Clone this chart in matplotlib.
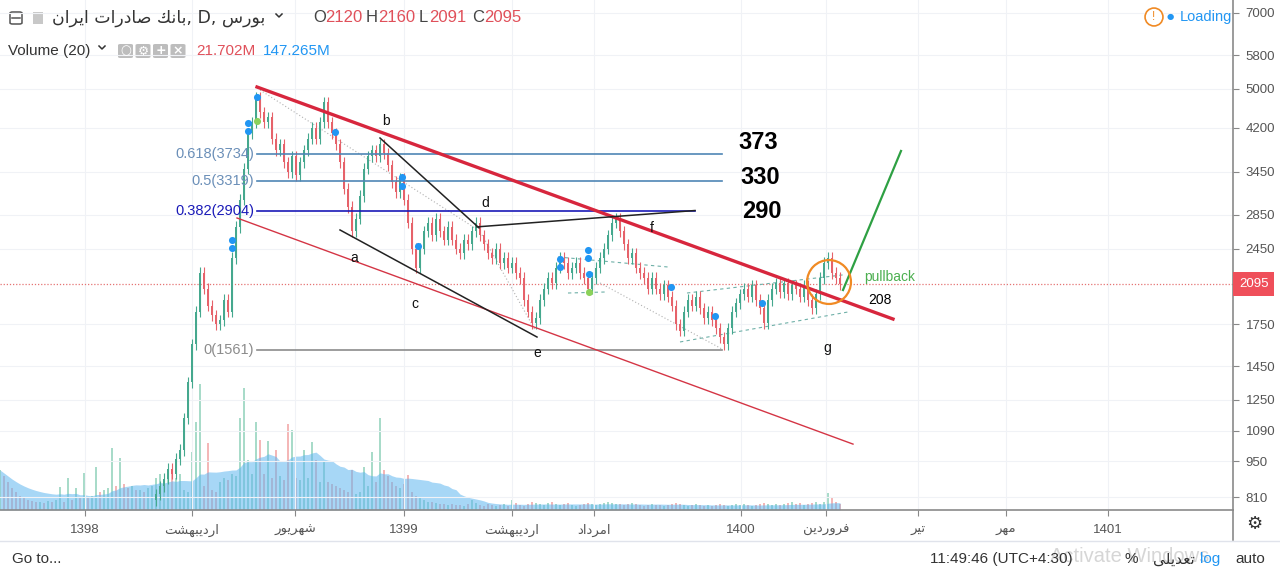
import numpy as np
import pandas as pd
import matplotlib
matplotlib.use('Agg')
import matplotlib.pyplot as plt
import matplotlib.transforms as mtrans
from matplotlib.patches import FancyBboxPatch, Rectangle
from matplotlib.lines import Line2D
from matplotlib.ticker import FixedLocator, NullLocator

plt.rcParams['font.family'] = ['Liberation Sans', 'DejaVu Sans']

# ---- data, one bar per trading-day slot ----
first_bar = 39          # index of the first visible candle
first_open = 800
closes = [820, 850, 880, 920, 900, 960,
          1000, 1150, 1350, 1600, 1850, 2200, 2050, 1900, 1820, 1750,
          1780, 1950, 1850, 2350, 2700, 3050, 3500, 4100, 4300, 4800,
          4500, 4300, 4400, 4000, 3800, 3900, 3600, 3450, 3700, 3400,
          3600, 3800, 4000, 4200, 4000, 4300, 4700, 4300, 4100, 3900,
          3600, 3200, 2950, 2650, 2800, 3100, 3500, 3700, 3800, 3700,
          3900, 3750, 3550, 3300, 3150, 3350, 3050, 2750, 2450, 2250,
          2450, 2650, 2750, 2600, 2800, 2650, 2550, 2700, 2550, 2450,
          2400, 2550, 2500, 2650, 2750, 2600, 2500, 2400, 2350, 2450,
          2300, 2350, 2250, 2300, 2200, 2150, 1950, 1850, 1760, 1800,
          1950, 2050, 2150, 2100, 2250, 2350, 2300, 2200, 2250, 2300,
          2200, 2150, 2050, 2150, 2250, 2350, 2450, 2600, 2750, 2800,
          2650, 2500, 2350, 2400, 2250, 2200, 2150, 2050, 2150, 2050,
          2000, 2080, 1980, 1900, 1750, 1700, 1850, 1950, 1900, 1980,
          1880, 1800, 1850, 1780, 1720, 1650, 1600, 1720, 1850, 1920,
          2000, 2050, 1980, 2080, 1950, 1880, 1760, 1950, 2050, 2100,
          2020, 2100, 2000, 2080, 2050, 1980, 2080, 1950, 1880, 2000,
          2150, 2300, 2350, 2200, 2150, 2095]

# volume in millions of shares, from bar 0
volumes = [1000, 850, 700, 550, 450,
           350, 300, 250, 225, 200, 200, 175, 225, 200, 250,
           575, 200, 800, 250, 550, 300, 925, 300, 350, 1075,
           450, 500, 550, 1550, 600, 1300, 650, 550, 600, 500,
           500, 450, 550, 600, 800, 900, 700, 850, 900, 800,
           900, 500, 450, 1450, 2200, 3150, 600, 1675, 500, 450,
           700, 800, 750, 900, 850, 2300, 3050, 1250, 900, 2200,
           1750, 900, 1725, 800, 1500, 850, 750, 2150, 2000, 800,
           750, 1500, 800, 1700, 1250, 700, 1200, 700, 650, 600,
           550, 500, 450, 1000, 400, 450, 1075, 600, 1450, 700,
           2300, 1000, 850, 700, 600, 550, 650, 875, 450, 350,
           300, 250, 200, 200, 175, 150, 150, 125, 150, 125,
           125, 100, 150, 250, 175, 125, 100, 150, 125, 100,
           125, 150, 100, 250, 175, 125, 100, 150, 200, 175,
           150, 125, 175, 200, 150, 125, 150, 175, 125, 100,
           125, 150, 175, 150, 125, 150, 175, 200, 175, 150,
           150, 125, 150, 175, 150, 125, 100, 125, 150, 125,
           125, 100, 125, 150, 175, 150, 125, 100, 125, 150,
           125, 100, 125, 100, 125, 150, 125, 100, 125, 150,
           125, 150, 125, 100, 125, 150, 175, 150, 125, 150,
           125, 150, 175, 200, 150, 175, 125, 150, 175, 200,
           150, 200, 425, 300, 200, 150]

last_price = 2095
price_ticks = [810, 950, 1090, 1250, 1450, 1750, 2450, 2850, 3450, 4200, 5000, 5800, 7000]
time_ticks = [21.25, 48, 73.75, 101, 128, 148.5, 185.25, 206.5, 229.5, 251.5, 277]
time_labels = ['1398',
               '\uFE96\uFEB8\uFEEC\uFE92\uFEF3\uFEA9\uFEAD\uFE8D',
               '\uFEAD\uFEEE\uFEF3\uFEAE\uFEEC\uFEB7',
               '1399',
               '\uFE96\uFEB8\uFEEC\uFE92\uFEF3\uFEA9\uFEAD\uFE8D',
               '\uFEA9\uFE8D\uFEA9\uFEAE\uFEE3\uFE8D',
               '1400',
               '\uFEE6\uFEF3\uFEA9\uFEAD\uFEED\uFEAE\uFED3',
               '\uFEAE\uFEF4\uFE97',
               '\uFEAE\uFEEC\uFEE3',
               '1401']

fib_ratio = [0.618, 0.5, 0.382, 0]
fib_price = [3734, 3319, 2904, 1561]
fib_end = [180.5, 180.5, 173.75, 180.5]
fib_color = ['#4f86b5', '#4f86b5', '#1a1ab8', '#8c8c8c']
fib_lcolor = ['#6b8fb8', '#6b8fb8', '#1a1ab8', '#8c8c8c']

dot_bar = [64.25, 62, 62, 58, 58, 83.75, 100.5, 100.5, 104.5, 140, 140, 147, 147, 147.25, 167.75, 178.75, 190.5]
dot_price = [4815, 4289, 4138, 2547, 2457, 4115, 3372, 3239, 2479, 2340, 2258, 2435, 2353, 2190, 2066, 1815, 1924]
gdot_bar = [64.25, 147.25]
gdot_price = [4329, 2021]

wave_labels = ['a', 'b', 'c', 'd', 'e', 'f', 'g']
wave_bar = [88.5, 96.5, 103.75, 121.25, 134.25, 163, 206.75]
wave_price = [2353, 4329, 1916, 3000, 1539, 2688, 1571]

targets = ['373', '330', '290']
target_bar = [189.5, 190, 190.5]
target_price = [3940, 3357, 2891]

# ---- figure ----
W, H = 1280, 575
fig = plt.figure(figsize=(12.8, 5.75), dpi=100)
fig.patch.set_facecolor('white')

def fx(px):
    return px / W

def fy(py):
    return 1 - py / H

rect = [0, fy(510), fx(1233), 510 / H]
axv = fig.add_axes(rect, zorder=0)
ax = fig.add_axes(rect, zorder=1)
ax.patch.set_visible(False)

xmax = 1233 / 4
for a in (ax, axv):
    a.set_xlim(0, xmax)

# volume
vol = pd.Series(volumes, dtype=float)
vx = np.arange(len(vol))
c = np.array(closes, float)
o = np.concatenate([[first_open], c[:-1]])
up = c >= o
vol_up = np.array(vol.diff().fillna(0) >= 0)
vol_up[first_bar:first_bar + len(c)] = up
vcol = np.where(vol_up, '#9fd8c4', '#f3b0b0')
axv.bar(vx, vol, width=0.55, color=vcol, alpha=0.9)
ma = vol.rolling(20, min_periods=1).mean()
axv.fill_between(vx, 0, ma, color='#5fb6f0', alpha=0.55, lw=0)
axv.set_ylim(0, 510 * 25)
axv.axis('off')

# grid and axes
ax.set_yscale('log')
ax.set_ylim(765, 7417)
ax.yaxis.set_major_locator(FixedLocator(price_ticks))
ax.yaxis.set_minor_locator(NullLocator())
ax.set_yticklabels([str(p) for p in price_ticks])
ax.set_xticks(time_ticks)
ax.set_xticklabels(time_labels)
ax.grid(True, color='#f0f2f6', lw=0.8, zorder=0)
ax.yaxis.tick_right()
ax.tick_params(axis='y', length=4, color='#888888', labelsize=9.5, labelcolor='#555555', pad=5)
ax.tick_params(axis='x', length=4, color='#888888', labelsize=9.5, labelcolor='#555555', pad=6)
for s in ['top', 'left']:
    ax.spines[s].set_visible(False)
for s in ['right', 'bottom']:
    ax.spines[s].set_color('#8a8a8a')
    ax.spines[s].set_linewidth(1.2)

# candles
idx = np.arange(first_bar, first_bar + len(c))
ccol = np.where(up, '#45a88e', '#e6626a')
hi = np.maximum(o, c) * 1.025
lo = np.minimum(o, c) * 0.975
ax.vlines(idx, lo, hi, colors=ccol, lw=0.8, zorder=3)
ax.bar(idx, np.abs(c - o), bottom=np.minimum(o, c), width=0.55, color=ccol, zorder=3)

# last price line and label
ax.axhline(last_price, color='#e57373', lw=0.9, ls=(0, (1, 1.5)), zorder=2)
tr = mtrans.blended_transform_factory(ax.transAxes, ax.transData)
ax.text(1.0 + 6 / 1233, last_price, str(last_price), transform=tr, ha='left', va='center',
        fontsize=9.5, color='white', zorder=10, clip_on=False,
        bbox=dict(boxstyle='square,pad=0.45', fc='#ef4f5a', ec='none'))

# fib levels
for r, p, e, lc, tc in zip(fib_ratio, fib_price, fib_end, fib_color, fib_lcolor):
    ax.plot([64.25, e], [p, p], color=lc, lw=1.2, zorder=4)
    ax.text(63.5, p, '%s(%d)' % (('%g' % r), p), ha='right', va='center',
            fontsize=10.5, color=tc, zorder=5)

# channel lines
ax.plot([64.25, 223.25], [5034, 1791], color='#d7263d', lw=2.4, zorder=5)
ax.plot([59.25, 213.25], [2809, 1026], color='#d43545', lw=1.0, zorder=5)

# wave lines
ax.plot([95, 119.75], [4011, 2688], color='#222222', lw=1.1, zorder=5)
ax.plot([119.25, 173.75], [2700, 2904], color='#222222', lw=1.1, zorder=5)
ax.plot([85, 134.25], [2663, 1653], color='#222222', lw=1.1, zorder=5)

# helper dotted / dashed guides
for (x0, x1, p0, p1) in [(65, 119.5, 4968, 2663), (120.5, 133.75, 2605, 1706), (150, 180.5, 2103, 1567)]:
    ax.plot([x0, x1], [p0, p1], color='#b0b0b0', lw=0.8, ls=(0, (1, 2)), zorder=2)
for (x0, x1, p0, p1) in [(139.5, 167, 2361, 2258), (142, 151.25, 2011, 2020),
                         (170, 212, 1617, 1848), (171.75, 210.75, 2011, 2180)]:
    ax.plot([x0, x1], [p0, p1], color='#6fb0a8', lw=0.8, ls=(0, (3, 3)), zorder=2)

# projection
ax.plot([210.75, 225.25], [2038, 3786], color='#2ea043', lw=1.6, zorder=6)
ax.scatter([207.25], [2112], s=1000, facecolors='none', edgecolors='#f08a24', lw=1.6, zorder=6)

# signal dots
ax.scatter(dot_bar, dot_price, s=26, color='#2196f3', zorder=7, lw=0)
ax.scatter(gdot_bar, gdot_price, s=26, color='#8bd15a', zorder=7, lw=0)

# texts
for t, b, p in zip(wave_labels, wave_bar, wave_price):
    ax.text(b, p, t, ha='center', va='center', fontsize=10, color='#111111', zorder=8)
for t, b, p in zip(targets, target_bar, target_price):
    ax.text(b, p, t, ha='center', va='center', fontsize=17, fontweight='bold', color='black', zorder=8)
ax.text(216, 2156, 'pullback', ha='left', va='center', fontsize=10, color='#4caf50', zorder=8)
ax.text(220, 1950, '208', ha='center', va='center', fontsize=10, color='black', zorder=8)

# ---- chrome around the chart ----
fig.add_artist(Line2D([fx(1233), fx(1233)], [fy(510), fy(540)], color='#8a8a8a', lw=1.2))
fig.add_artist(Line2D([0, 1], [fy(541), fy(541)], color='#e0e3eb', lw=1))
fig.text(fx(1254), fy(524), '\u2699', ha='center', va='center', fontsize=13, color='#333333',
         family=['DejaVu Sans'])

# header
fig.add_artist(FancyBboxPatch((fx(10), fy(24)), fx(12), 12 / H, boxstyle='round,pad=0,rounding_size=0.002',
                              fc='white', ec='#555555', lw=1.1))
fig.add_artist(Line2D([fx(12), fx(20)], [fy(18), fy(18)], color='#555555', lw=1.1))
fig.add_artist(Rectangle((fx(33), fy(24)), fx(10), 12 / H, fc='#c8c8c8', ec='none'))
title = ('\uFEE5\uFE8D\uFEAE\uFEF3\uFE8D \uFE95\uFE8D\uFEAD\uFEA9\uFE8E\uFEBB '
         '\uFEDA\uFEE7\uFE8E\uFE91, D, \uFEB1\uFEAD\uFEEE\uFE91')
fig.text(fx(52), fy(18), title, ha='left', va='center', fontsize=12.5, color='#333333',
         family=['DejaVu Sans'])
fig.add_artist(Line2D([fx(276), fx(279), fx(282)], [fy(14), fy(17), fy(14)], color='#333333', lw=1.1))
x = 313
for k, v in [('O', '2120'), ('H', '2160'), ('L', '2091'), ('C', '2095')]:
    fig.text(fx(x), fy(18), k, ha='left', va='center', fontsize=12, color='#444444')
    kw = 12 if k in 'OHC' else 10
    fig.text(fx(x + kw), fy(18), v, ha='left', va='center', fontsize=12, color='#e0505a')
    x += 53

fig.text(fx(8), fy(51), 'Volume (20)', ha='left', va='center', fontsize=11, color='#333333')
fig.add_artist(Line2D([fx(99), fx(102), fx(105)], [fy(46), fy(49), fy(46)], color='#333333', lw=1.1))
for i, sym in enumerate(['\u25cb', '\u2699', '+', '\u00d7']):
    bx = 118 + i * 17.5
    fig.add_artist(FancyBboxPatch((fx(bx), fy(58)), fx(15), 14 / H,
                                  boxstyle='round,pad=0,rounding_size=0.002', fc='#bdbdbd', ec='none'))
    fig.text(fx(bx + 7.5), fy(51), sym, ha='center', va='center', fontsize=9, color='white',
             fontweight='bold', family=['DejaVu Sans'])
fig.text(fx(196), fy(51), '21.702M', ha='left', va='center', fontsize=11, color='#e0505a')
fig.text(fx(263), fy(51), '147.265M', ha='left', va='center', fontsize=11, color='#2196f3')

# loading badge
fig.text(fx(1154), fy(17), '!', ha='center', va='center', fontsize=8.5, color='#f08a24',
         bbox=dict(boxstyle='circle,pad=0.25', fc='white', ec='#f08a24', lw=1.2))
fig.text(fx(1170), fy(17), '\u25cf', ha='center', va='center', fontsize=6, color='#2196f3',
         family=['DejaVu Sans'])
fig.text(fx(1180), fy(17), 'Loading', ha='left', va='center', fontsize=10.5, color='#2196f3')

# bottom toolbar
fig.text(fx(12), fy(559), 'Go to...', ha='left', va='center', fontsize=11, color='#333333')
fig.text(fx(1050), fy(557), 'Activate Windows', ha='left', va='center', fontsize=14.5, color='#d6d6d6',
         zorder=-1)
fig.text(fx(930), fy(559), '11:49:46 (UTC+4:30)', ha='left', va='center', fontsize=11, color='#333333')
fig.text(fx(1131), fy(559), '%', ha='center', va='center', fontsize=11, color='#333333')
fig.text(fx(1174), fy(559), '\uFEF0\uFEE0\uFEF3\uFEAA\uFECC\uFE97', ha='center', va='center',
         fontsize=11, color='#333333', family=['DejaVu Sans'])
fig.text(fx(1210), fy(559), 'log', ha='center', va='center', fontsize=11, color='#2196f3')
fig.text(fx(1250), fy(559), 'auto', ha='center', va='center', fontsize=11, color='#333333')

fig.savefig('out.png', dpi=100)
